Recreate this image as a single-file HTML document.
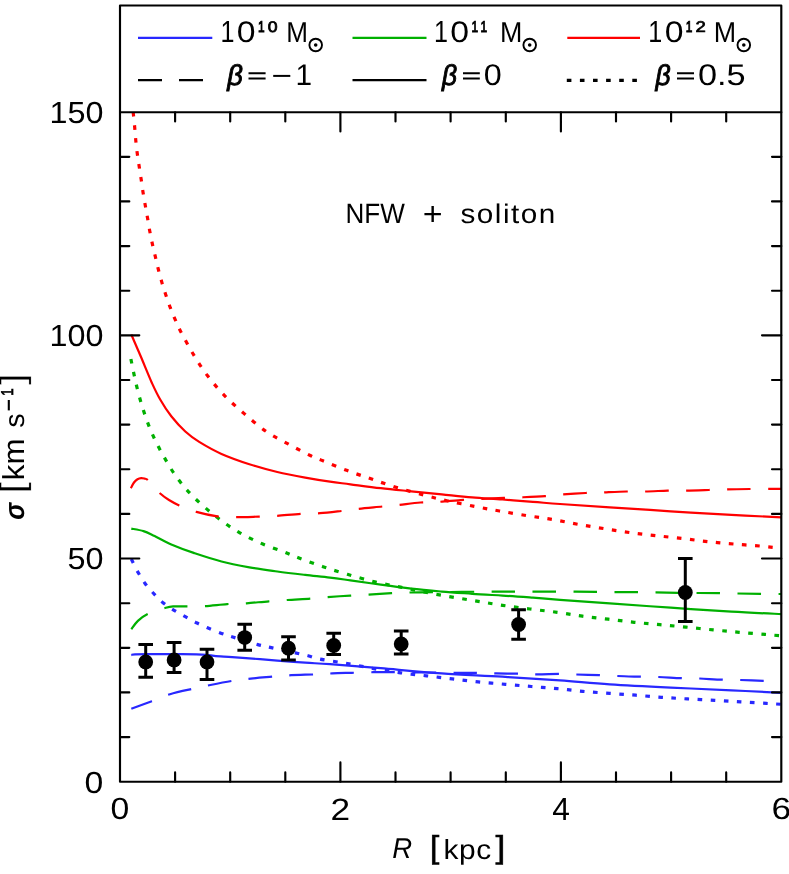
<!DOCTYPE html>
<html><head><meta charset="utf-8"><title>NFW + soliton</title>
<style>html,body{margin:0;padding:0;background:#fff}svg{display:block;will-change:transform}text{font-family:"Liberation Sans",sans-serif;fill:#000;text-rendering:geometricPrecision}</style>
</head><body>
<svg width="789" height="874" viewBox="0 0 789 874">
<rect width="789" height="874" fill="#fff"/>
<defs><clipPath id="pc"><rect x="120.0" y="112.2" width="661.3" height="669.6"/></clipPath></defs>
<g fill="none" clip-path="url(#pc)">
<path d="M131.3 708.7C134.7 707.5 145.4 703.6 151.8 701.2C158.2 698.8 163.0 696.3 170.0 694.2C177.0 692.1 187.0 690.1 193.7 688.6C200.4 687.1 203.9 686.3 210.4 685.0C216.9 683.7 226.0 681.9 232.7 680.8C239.4 679.7 244.1 679.3 250.8 678.6C257.5 677.9 266.4 677.2 273.1 676.6C279.9 676.0 284.3 675.6 291.3 675.2C298.3 674.8 308.2 674.7 315.0 674.4C321.8 674.1 326.1 673.7 332.2 673.4C338.3 673.1 345.1 673.0 351.9 672.8C358.7 672.6 365.8 672.3 373.2 672.2C380.6 672.1 382.3 672.1 396.0 672.2C409.7 672.3 442.0 672.7 455.4 672.8C468.8 672.9 469.8 672.7 476.6 672.8C483.4 672.9 489.3 673.2 496.4 673.4C503.5 673.5 512.4 673.6 519.2 673.7C526.1 673.9 530.8 674.3 537.5 674.3C544.2 674.3 553.1 673.9 559.6 673.9C566.1 673.9 569.8 674.3 576.4 674.5C583.0 674.7 592.4 674.9 599.2 675.1C606.0 675.4 610.5 675.7 617.4 676.0C624.2 676.3 633.4 676.5 640.3 676.7C647.1 676.9 651.7 676.8 658.5 677.0C665.3 677.2 674.4 678.0 681.3 678.2C688.1 678.5 692.8 678.2 699.6 678.5C706.5 678.8 715.6 679.5 722.4 679.7C729.2 680.0 733.8 679.8 740.6 680.0C747.4 680.2 756.6 680.6 763.4 680.9C770.2 681.1 778.5 681.4 781.5 681.5" stroke="#2828ff" stroke-width="2.2" stroke-dasharray="23.5 17.5" stroke-dashoffset="1.5"/>
<path d="M131.3 655.2C131.9 655.1 130.2 654.5 135.0 654.3C139.8 654.1 152.2 654.2 160.0 654.2C167.8 654.2 174.3 654.1 182.0 654.2C189.7 654.3 200.6 654.5 206.0 654.8C211.4 655.1 209.8 655.4 214.2 655.8C218.6 656.2 224.6 656.6 232.2 657.2C239.8 657.8 252.5 658.6 260.0 659.2C267.5 659.8 269.8 660.1 277.3 660.7C284.8 661.3 296.4 662.1 305.2 662.7C314.0 663.3 317.4 663.2 330.0 664.1C342.6 665.0 362.2 666.7 380.8 668.2C399.4 669.8 421.4 672.0 441.7 673.4C462.0 674.8 482.8 675.5 502.5 676.7C522.2 677.9 542.1 679.1 560.0 680.4C577.9 681.7 591.3 683.1 609.8 684.3C628.2 685.5 650.4 686.6 670.7 687.6C691.0 688.6 713.0 689.4 731.5 690.3C750.0 691.2 773.2 692.4 781.5 692.8" stroke="#2828ff" stroke-width="2.2"/>
<path d="M131.3 559.0C132.4 561.2 135.6 568.1 137.9 572.1C140.2 576.1 142.4 579.7 144.9 583.2C147.4 586.7 150.2 589.8 153.2 593.0C156.2 596.2 159.5 599.8 163.0 602.7C166.5 605.6 170.4 608.0 174.1 610.3C177.8 612.6 181.6 614.6 185.3 616.7C189.0 618.8 192.7 620.9 196.4 622.8C200.1 624.6 203.4 626.0 207.6 627.8C211.8 629.6 217.3 631.9 221.5 633.4C225.7 634.9 226.6 635.1 232.7 637.0C238.8 638.9 251.5 642.9 257.8 644.6C264.1 646.3 264.0 646.0 270.3 647.4C276.6 648.8 289.1 651.5 295.4 652.9C301.7 654.3 303.9 654.7 308.0 655.7C312.1 656.7 313.4 657.8 320.0 659.1C326.6 660.4 338.3 662.0 347.4 663.6C356.5 665.2 365.9 667.3 374.8 668.8C383.7 670.3 392.0 671.6 400.6 672.8C409.2 674.0 417.9 674.8 426.5 675.8C435.1 676.8 443.7 677.9 452.3 678.9C460.9 679.9 469.3 681.0 478.2 681.9C487.1 682.8 496.6 683.5 505.5 684.3C514.4 685.1 522.8 685.8 531.4 686.5C540.0 687.2 548.8 687.8 557.3 688.6C565.8 689.4 573.8 690.5 582.5 691.3C591.2 692.1 600.9 692.8 609.8 693.4C618.7 694.0 627.1 694.6 635.7 695.2C644.3 695.9 652.9 696.7 661.5 697.3C670.1 697.9 678.5 698.4 687.4 698.9C696.3 699.4 705.9 699.9 714.8 700.4C723.7 700.9 732.0 701.4 740.6 701.9C749.2 702.4 759.8 703.0 766.5 703.4C773.2 703.8 778.6 704.1 781.0 704.3" stroke="#2828ff" stroke-width="3.2" stroke-dasharray="4.6 8.5"/>
<path d="M131.3 629.2C132.4 627.8 135.2 623.5 137.9 620.9C140.6 618.3 142.9 616.1 147.6 613.9C152.2 611.7 161.4 609.0 165.8 607.8C170.2 606.5 170.6 606.6 174.1 606.4C177.6 606.2 181.6 606.4 186.7 606.4C191.8 606.4 198.1 606.5 204.8 606.1C211.5 605.7 220.1 604.6 227.1 604.1C234.1 603.6 239.6 603.8 246.6 603.3C253.6 602.8 262.1 601.8 268.9 601.3C275.6 600.8 280.1 600.5 287.1 600.0C294.1 599.5 304.1 599.1 310.8 598.6C317.6 598.1 321.0 597.6 327.6 597.1C334.2 596.6 343.5 596.0 350.4 595.6C357.2 595.2 361.8 595.1 368.7 594.7C375.6 594.3 384.7 593.6 391.5 593.2C398.3 592.8 402.9 592.7 409.7 592.5C416.5 592.3 419.1 592.4 432.5 592.2C445.9 592.1 476.6 591.7 490.3 591.6C504.0 591.5 503.8 591.6 514.7 591.6C525.6 591.6 542.1 591.6 555.7 591.6C569.3 591.6 582.5 591.8 596.1 591.9C609.7 592.0 623.5 592.1 637.2 592.2C650.9 592.4 664.6 592.6 678.3 592.8C692.0 593.0 705.6 593.0 719.3 593.2C733.0 593.4 750.0 593.7 760.4 593.8C770.8 593.9 778.0 594.0 781.5 594.0" stroke="#00b000" stroke-width="2.2" stroke-dasharray="23.5 17.5" stroke-dashoffset="0.8"/>
<path d="M131.3 528.6C133.3 529.0 139.6 529.9 143.5 531.1C147.4 532.4 150.0 533.9 154.6 536.1C159.2 538.3 164.8 541.7 171.3 544.5C177.8 547.3 185.3 550.1 193.7 552.9C202.1 555.7 212.2 559.1 221.5 561.5C230.8 563.9 240.1 565.6 249.4 567.3C258.7 569.0 268.0 570.2 277.3 571.5C286.6 572.8 296.4 573.9 305.2 574.9C314.0 575.9 322.5 576.7 330.0 577.6C337.5 578.5 341.9 579.2 350.4 580.4C358.9 581.6 370.6 583.2 380.8 584.6C391.0 586.0 401.2 587.4 411.3 588.6C421.4 589.8 431.6 590.7 441.7 591.6C451.8 592.5 462.0 593.1 472.1 593.8C482.2 594.5 492.4 595.0 502.5 595.6C512.6 596.2 523.3 597.0 532.9 597.7C542.5 598.4 547.2 598.8 560.0 599.8C572.8 600.8 591.3 602.1 609.8 603.4C628.2 604.7 650.4 606.3 670.7 607.7C691.0 609.1 713.0 610.5 731.5 611.6C750.0 612.7 773.2 613.7 781.5 614.1" stroke="#00b000" stroke-width="2.2"/>
<path d="M130.9 359.0C131.8 363.4 134.4 376.9 136.5 385.5C138.6 394.1 140.9 402.7 143.5 410.6C146.1 418.5 148.6 425.5 151.8 432.9C155.1 440.3 158.8 447.8 163.0 455.2C167.2 462.6 171.8 470.6 176.9 477.6C182.0 484.6 187.2 490.6 193.7 497.1C200.2 503.6 208.6 510.8 216.0 516.6C223.4 522.4 230.9 527.5 238.3 531.9C245.7 536.3 253.2 539.8 260.6 543.1C268.0 546.4 276.4 549.0 282.9 551.5C289.4 554.0 292.9 555.7 299.6 558.2C306.3 560.7 315.0 564.0 323.0 566.7C331.0 569.4 338.8 571.8 347.4 574.3C356.0 576.8 365.9 579.8 374.8 581.9C383.7 584.0 392.0 585.3 400.6 587.1C409.2 588.9 417.9 590.8 426.5 592.5C435.1 594.2 443.7 595.6 452.3 597.1C460.9 598.6 469.8 600.0 478.2 601.4C486.6 602.8 493.9 604.0 502.5 605.3C511.1 606.6 520.8 607.8 529.9 609.0C539.0 610.2 548.5 611.1 557.3 612.3C566.1 613.5 574.0 615.1 582.5 616.2C591.0 617.4 599.7 618.2 608.3 619.2C616.9 620.2 625.6 621.4 634.2 622.3C642.8 623.2 651.4 623.9 660.0 624.7C668.6 625.5 677.0 626.2 685.9 627.1C694.8 628.0 704.4 629.0 713.3 629.9C722.2 630.8 730.5 631.5 739.1 632.3C747.7 633.0 758.0 633.8 765.0 634.4C772.0 635.0 778.3 635.6 781.0 635.8" stroke="#00b000" stroke-width="3.2" stroke-dasharray="4.6 8.5"/>
<path d="M130.9 488.2C131.4 487.2 132.9 484.0 134.0 482.5C135.1 481.0 136.3 479.9 137.5 479.2C138.7 478.5 140.0 478.2 141.2 478.1C142.4 478.0 143.4 478.3 144.5 478.6C145.6 478.9 146.2 478.7 147.6 479.8C149.0 480.9 150.9 483.2 153.0 485.5C155.1 487.8 157.5 491.1 160.2 493.5C162.9 495.9 165.8 498.0 169.0 500.0C172.2 502.0 174.6 503.4 179.2 505.4C183.8 507.4 189.8 510.0 196.4 511.9C203.0 513.8 212.1 515.7 218.8 516.6C225.6 517.5 230.2 517.2 236.9 517.2C243.6 517.2 252.5 516.8 259.2 516.6C265.9 516.4 270.3 516.3 277.3 515.8C284.3 515.3 293.9 514.2 301.0 513.8C308.1 513.4 313.3 513.7 320.0 513.2C326.7 512.7 335.0 511.7 341.3 511.0C347.6 510.3 351.1 509.6 358.0 508.9C364.9 508.1 375.5 507.2 382.4 506.5C389.2 505.8 392.8 505.6 399.1 504.9C405.4 504.2 413.8 503.0 420.4 502.5C427.0 502.0 431.5 502.3 438.6 501.9C445.7 501.4 455.9 500.3 463.0 499.8C470.1 499.3 474.4 499.2 481.2 498.9C488.0 498.6 497.1 498.2 504.0 497.9C510.9 497.6 515.4 497.6 522.3 497.3C529.1 497.0 538.4 496.6 545.1 496.1C551.8 495.6 556.0 495.0 562.7 494.5C569.4 494.0 578.6 493.4 585.5 493.0C592.4 492.6 596.9 492.6 603.8 492.4C610.6 492.1 619.8 491.6 626.6 491.5C633.4 491.4 638.0 491.6 644.8 491.5C651.6 491.4 660.8 490.8 667.6 490.6C674.5 490.5 679.0 490.7 685.9 490.6C692.8 490.5 701.9 490.2 708.7 490.0C715.5 489.8 720.0 489.6 726.9 489.4C733.8 489.2 740.7 489.1 749.8 489.0C758.9 488.9 776.2 488.8 781.5 488.8" stroke="#ff0000" stroke-width="2.2" stroke-dasharray="23.5 17.5" stroke-dashoffset="1.3"/>
<path d="M131.3 334.5C132.9 338.1 137.3 348.3 140.7 356.3C144.1 364.3 148.6 375.5 151.8 382.7C155.1 389.9 156.9 393.9 160.2 399.5C163.4 405.1 167.1 410.9 171.3 416.2C175.5 421.5 180.7 427.2 185.3 431.5C190.0 435.8 193.2 438.2 199.2 441.9C205.2 445.6 213.1 450.2 221.5 453.9C229.9 457.6 240.1 461.2 249.4 464.2C258.7 467.2 268.0 469.8 277.3 472.0C286.6 474.2 296.4 476.0 305.2 477.6C314.0 479.2 322.5 480.6 330.0 481.7C337.5 482.8 341.9 483.2 350.4 484.3C358.9 485.4 370.6 487.0 380.8 488.2C391.0 489.4 401.2 490.3 411.3 491.3C421.4 492.3 431.6 493.3 441.7 494.3C451.8 495.3 462.0 496.4 472.1 497.3C482.2 498.2 492.4 498.7 502.5 499.5C512.6 500.3 523.3 501.1 532.9 501.9C542.5 502.6 547.2 503.1 560.0 504.0C572.8 504.9 591.3 506.1 609.8 507.3C628.2 508.5 650.4 510.0 670.7 511.3C691.0 512.6 713.0 513.9 731.5 514.9C750.0 515.9 773.2 516.9 781.5 517.3" stroke="#ff0000" stroke-width="2.2"/>
<path d="M133.2 112.0C133.4 114.6 134.3 122.6 134.7 127.4C135.1 132.2 135.4 136.2 135.8 140.6C136.2 145.0 136.7 149.4 137.3 153.7C137.9 158.0 138.5 162.2 139.2 166.5C139.8 170.8 140.5 175.2 141.2 179.6C141.8 184.0 142.4 188.5 143.1 192.8C143.8 197.1 144.6 201.3 145.3 205.6C146.1 209.9 146.8 214.1 147.6 218.4C148.3 222.7 149.0 227.0 149.8 231.3C150.6 235.6 151.5 239.8 152.4 244.1C153.3 248.4 154.4 252.6 155.4 256.9C156.4 261.2 157.4 265.7 158.5 270.0C159.6 274.3 160.8 278.7 162.0 282.9C163.2 287.1 164.6 291.3 166.0 295.4C167.4 299.5 168.8 303.6 170.3 307.7C171.9 311.8 173.5 315.9 175.3 319.9C177.1 323.9 177.8 326.1 180.9 331.9C184.0 337.7 189.2 347.6 193.7 354.9C198.1 362.2 202.5 369.1 207.6 375.8C212.7 382.5 218.2 389.0 224.3 395.3C230.4 401.6 236.9 407.4 243.9 413.4C250.9 419.4 258.8 426.4 266.2 431.5C273.6 436.6 281.1 440.1 288.5 444.1C295.9 448.2 305.1 453.0 310.8 455.8C316.6 458.6 316.9 458.3 323.0 460.8C329.1 463.3 339.3 467.6 347.4 470.6C355.5 473.7 363.6 476.3 371.7 479.1C379.8 481.9 387.4 484.7 396.0 487.3C404.6 489.9 414.8 492.6 423.4 494.9C432.0 497.2 439.2 499.1 447.8 501.0C456.4 502.9 466.5 504.8 475.1 506.5C483.7 508.2 490.9 509.5 499.5 511.0C508.1 512.5 517.9 514.2 526.8 515.6C535.7 517.0 544.2 518.0 552.7 519.5C561.2 521.0 569.4 522.8 577.9 524.3C586.4 525.8 595.2 527.2 603.8 528.6C612.4 530.0 621.0 531.3 629.6 532.5C638.2 533.7 646.6 534.6 655.5 535.6C664.4 536.6 673.9 537.6 682.8 538.6C691.7 539.6 700.1 540.8 708.7 541.7C717.3 542.6 725.6 543.4 734.5 544.1C743.4 544.9 754.1 545.5 761.9 546.2C769.6 546.9 777.8 547.9 781.0 548.2" stroke="#ff0000" stroke-width="3.2" stroke-dasharray="4.6 8.5"/>
</g>
<g stroke="#000" stroke-width="3" fill="#000">
<path d="M145.7 644.6 V677.2 M138.4 644.6 H153.0 M138.4 677.2 H153.0" fill="none"/>
<circle cx="145.7" cy="661.9" r="7.4" stroke="none"/>
<path d="M174.1 642.6 V672.5 M166.8 642.6 H181.4 M166.8 672.5 H181.4" fill="none"/>
<circle cx="174.1" cy="659.9" r="7.4" stroke="none"/>
<path d="M207.0 649.3 V679.4 M199.7 649.3 H214.3 M199.7 679.4 H214.3" fill="none"/>
<circle cx="207.0" cy="661.9" r="7.4" stroke="none"/>
<path d="M244.7 624.2 V650.2 M237.4 624.2 H252.0 M237.4 650.2 H252.0" fill="none"/>
<circle cx="244.7" cy="637.6" r="7.4" stroke="none"/>
<path d="M288.5 636.8 V659.9 M281.2 636.8 H295.8 M281.2 659.9 H295.8" fill="none"/>
<circle cx="288.5" cy="648.2" r="7.4" stroke="none"/>
<path d="M333.7 633.2 V654.5 M326.4 633.2 H341.0 M326.4 654.5 H341.0" fill="none"/>
<circle cx="333.7" cy="645.4" r="7.4" stroke="none"/>
<path d="M401.2 631.1 V653.9 M393.9 631.1 H408.5 M393.9 653.9 H408.5" fill="none"/>
<circle cx="401.2" cy="643.9" r="7.4" stroke="none"/>
<path d="M518.6 609.8 V639.3 M511.3 609.8 H525.9 M511.3 639.3 H525.9" fill="none"/>
<circle cx="518.6" cy="624.5" r="7.4" stroke="none"/>
<path d="M685.3 558.4 V621.4 M678.0 558.4 H692.6 M678.0 621.4 H692.6" fill="none"/>
<circle cx="685.3" cy="592.5" r="7.4" stroke="none"/>
</g>
<g stroke="#000" stroke-width="2.15" fill="none" stroke-linecap="round" stroke-linejoin="round">
<path d="M120.0 5.5 H781.3 V781.7 H120.0 Z"/>
<path d="M120.0 112.2 H781.3"/>
<path d="M175.1 781.7 v-9.3 M175.1 112.2 v9.3 M230.2 781.7 v-9.3 M230.2 112.2 v9.3 M285.3 781.7 v-9.3 M285.3 112.2 v9.3 M340.4 781.7 v-19.3 M340.4 112.2 v19.3 M395.5 781.7 v-9.3 M395.5 112.2 v9.3 M450.6 781.7 v-9.3 M450.6 112.2 v9.3 M505.8 781.7 v-9.3 M505.8 112.2 v9.3 M560.9 781.7 v-19.3 M560.9 112.2 v19.3 M616.0 781.7 v-9.3 M616.0 112.2 v9.3 M671.1 781.7 v-9.3 M671.1 112.2 v9.3 M726.2 781.7 v-9.3 M726.2 112.2 v9.3 M120.0 737.1 h9.3 M781.3 737.1 h-9.3 M120.0 692.4 h9.3 M781.3 692.4 h-9.3 M120.0 647.8 h9.3 M781.3 647.8 h-9.3 M120.0 603.2 h9.3 M781.3 603.2 h-9.3 M120.0 558.5 h19.3 M781.3 558.5 h-19.3 M120.0 513.9 h9.3 M781.3 513.9 h-9.3 M120.0 469.2 h9.3 M781.3 469.2 h-9.3 M120.0 424.6 h9.3 M781.3 424.6 h-9.3 M120.0 380.0 h9.3 M781.3 380.0 h-9.3 M120.0 335.3 h19.3 M781.3 335.3 h-19.3 M120.0 290.7 h9.3 M781.3 290.7 h-9.3 M120.0 246.1 h9.3 M781.3 246.1 h-9.3 M120.0 201.4 h9.3 M781.3 201.4 h-9.3 M120.0 156.8 h9.3 M781.3 156.8 h-9.3 "/>
</g>
<text transform="translate(84.55 792.50) scale(0.3375 0.3042)" font-size="100">0</text>
<text transform="translate(67.54 569.31) scale(0.3230 0.3042)" font-size="100">50</text>
<text transform="translate(49.45 346.13) scale(0.3230 0.3042)" font-size="100">100</text>
<text transform="translate(49.45 122.95) scale(0.3230 0.3042)" font-size="100">150</text>
<text transform="translate(110.55 819.29) scale(0.3375 0.3056)" font-size="100">0</text>
<text transform="translate(330.57 819.60) scale(0.3522 0.3100)" font-size="100">2</text>
<text transform="translate(552.13 819.92) scale(0.3176 0.3191)" font-size="100">4</text>
<text transform="translate(771.44 819.29) scale(0.3522 0.3056)" font-size="100">6</text>
<text transform="translate(392.37 858.29) scale(0.2758 0.2868)" font-size="100" font-style="italic">R</text>
<text transform="translate(429.83 857.99) scale(0.3450 0.3170)" font-size="100" stroke="#000" stroke-width="1.51">[</text>
<text transform="translate(443.51 858.69) scale(0.2987 0.2766)" font-size="100" letter-spacing="2.15">kpc</text>
<text transform="translate(495.59 857.99) scale(0.3550 0.3170)" font-size="100" stroke="#000" stroke-width="1.49">]</text>
<g transform="translate(23.6,519) rotate(-90)">
<text transform="translate(-0.86 0.72) scale(0.2545 0.2833)" font-size="100" font-style="italic" font-weight="bold">σ</text>
<text transform="translate(25.38 0.28) scale(0.4100 0.3415)" font-size="100" stroke="#fff" stroke-width="0.80">[</text>
<text transform="translate(38.81 0.00) scale(0.3125 0.3027)" font-size="100">km</text>
<text transform="translate(91.23 0.62) scale(0.2884 0.2782)" font-size="100">s</text>
<path d="M108.6 -14.8 H119" stroke="#000" stroke-width="2.1" fill="none"/>
<text transform="translate(123.34 -10.15) scale(0.1311 0.1696)" font-size="100" stroke="#000" stroke-width="4.70">1</text>
<text transform="translate(134.25 0.28) scale(0.4050 0.3415)" font-size="100" stroke="#fff" stroke-width="0.81">]</text>
</g>
<text transform="translate(345.52 222.70) scale(0.2603 0.2797)" font-size="100">NFW</text>
<text transform="translate(422.70 225.36) scale(0.3396 0.3286)" font-size="100">+</text>
<text transform="translate(460.51 222.63) scale(0.2973 0.2703)" font-size="100" letter-spacing="4.91">soliton</text>
<path d="M138.0 37.85 H212.3" stroke="#2828ff" stroke-width="2.2" fill="none"/>
<text transform="translate(220.40 42.40) scale(0.2508 0.3058)" font-size="100">1</text>
<text transform="translate(236.85 42.10) scale(0.3375 0.2972)" font-size="100">0</text>
<text transform="translate(258.00 32.20) scale(0.1193 0.1565)" font-size="100" stroke="#000" stroke-width="5.86">1</text>
<text transform="translate(267.79 32.05) scale(0.1771 0.1521)" font-size="100" stroke="#000" stroke-width="4.87">0</text>
<text transform="translate(286.31 42.20) scale(0.2612 0.2884)" font-size="100">M</text>
<circle cx="315.7" cy="45.0" r="6.3" fill="none" stroke="#000" stroke-width="1.9"/><circle cx="315.7" cy="45.0" r="1.8" fill="#000"/>
<path d="M352.5 37.85 H426.5" stroke="#00b000" stroke-width="2.2" fill="none"/>
<text transform="translate(433.90 42.40) scale(0.2508 0.3058)" font-size="100">1</text>
<text transform="translate(450.35 42.10) scale(0.3375 0.2972)" font-size="100">0</text>
<text transform="translate(471.50 32.20) scale(0.1193 0.1565)" font-size="100" stroke="#000" stroke-width="5.86">1</text>
<text transform="translate(480.60 32.20) scale(0.1193 0.1565)" font-size="100" stroke="#000" stroke-width="5.86">1</text>
<text transform="translate(499.95 42.20) scale(0.2687 0.2884)" font-size="100">M</text>
<circle cx="529.7" cy="45.0" r="6.3" fill="none" stroke="#000" stroke-width="1.9"/><circle cx="529.7" cy="45.0" r="1.8" fill="#000"/>
<path d="M567.3 37.85 H640.0" stroke="#ff0000" stroke-width="2.2" fill="none"/>
<text transform="translate(648.20 42.40) scale(0.2508 0.3058)" font-size="100">1</text>
<text transform="translate(664.65 42.10) scale(0.3375 0.2972)" font-size="100">0</text>
<text transform="translate(685.80 32.20) scale(0.1193 0.1565)" font-size="100" stroke="#000" stroke-width="5.86">1</text>
<text transform="translate(695.38 32.20) scale(0.1848 0.1543)" font-size="100" stroke="#000" stroke-width="4.74">2</text>
<text transform="translate(713.85 42.20) scale(0.2687 0.2884)" font-size="100">M</text>
<circle cx="743.8" cy="45.0" r="6.3" fill="none" stroke="#000" stroke-width="1.9"/><circle cx="743.8" cy="45.0" r="1.8" fill="#000"/>
<path d="M138 80.15 H203" stroke="#000" stroke-width="2.15" stroke-dasharray="24 17" fill="none"/>
<text transform="translate(227.30 84.70) scale(0.2737 0.2883)" font-size="100" font-style="italic" stroke="#000" stroke-width="3.20">β</text>
<path d="M248.5 73.3 H265.6 M248.5 78.5 H265.6" stroke="#000" stroke-width="2" fill="none"/>
<path d="M273.2 75.9 H290.3" stroke="#000" stroke-width="2" fill="none"/>
<text transform="translate(295.62 84.80) scale(0.2977 0.2971)" font-size="100">1</text>
<path d="M352.5 80.15 H426.5" stroke="#000" stroke-width="2.15" fill="none"/>
<text transform="translate(441.98 84.70) scale(0.2632 0.2883)" font-size="100" font-style="italic" stroke="#000" stroke-width="3.27">β</text>
<path d="M463.0 73.3 H479.8 M463.0 78.5 H479.8" stroke="#000" stroke-width="2" fill="none"/>
<text transform="translate(483.81 84.90) scale(0.3229 0.2986)" font-size="100">0</text>
<path d="M566.8 80.3 H640" stroke="#000" stroke-width="3.2" stroke-dasharray="4.6 8.5" fill="none"/>
<text transform="translate(655.38 84.70) scale(0.2649 0.2883)" font-size="100" font-style="italic" stroke="#000" stroke-width="3.26">β</text>
<path d="M677.0 73.3 H694.0 M677.0 78.5 H694.0" stroke="#000" stroke-width="2" fill="none"/>
<text transform="translate(697.93 84.90) scale(0.3427 0.2986)" font-size="100">0.5</text>
</svg></body></html>
